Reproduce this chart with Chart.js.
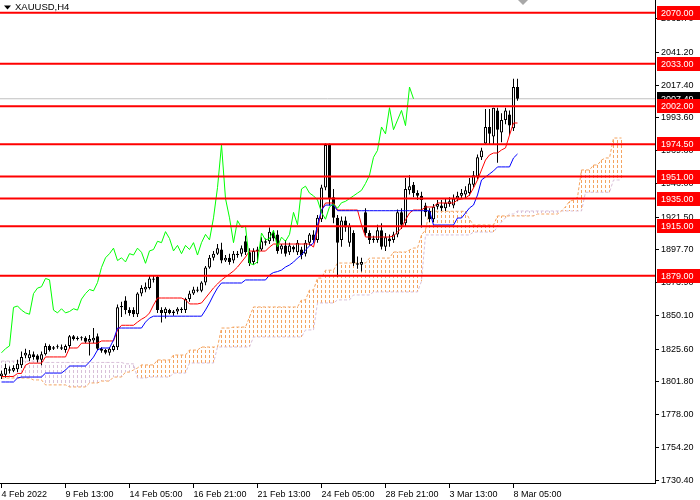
<!DOCTYPE html>
<html>
<head>
<meta charset="utf-8">
<title>XAUUSD,H4</title>
<style>
  html, body { margin: 0; padding: 0; background: #fff; }
  canvas { display: block; }
</style>
<script src="https://cdn.jsdelivr.net/npm/chart.js@4.4.1/dist/chart.umd.min.js"></script>
</head>
<body>
<canvas id="chart" width="700" height="500"></canvas>
<script>
// axis labels
const timeTicks = [0, 16, 32, 48, 64, 80, 96, 112, 128];
const timeLabels = ["4 Feb 2022", "9 Feb 13:00", "14 Feb 05:00", "16 Feb 21:00", "21 Feb 13:00",
  "24 Feb 05:00", "28 Feb 21:00", "3 Mar 13:00", "8 Mar 05:00"];
const priceTicks = [2065.70, 2041.20, 2017.40, 1993.60, 1969.80, 1946.00, 1921.50, 1897.70,
  1873.90, 1850.10, 1825.60, 1801.80, 1778.00, 1754.20, 1730.40];

// horizontal levels and last price
const levels = [2070.00, 2033.00, 2002.00, 1974.50, 1951.00, 1935.00, 1915.00, 1879.00];
const lastPrice = 2007.49;

// H4 candles, one value per bar
const openP = [
  1806, 1807, 1811, 1810, 1811, 1814, 1821, 1819, 1822, 1821,
  1818, 1822, 1828, 1826, 1827, 1827, 1825, 1828, 1835, 1833,
  1834, 1834, 1831, 1832, 1835, 1826, 1825, 1823, 1825, 1827,
  1856, 1861, 1854, 1854, 1851, 1866, 1869, 1870, 1877, 1878,
  1854, 1852, 1854, 1852, 1853, 1855, 1854, 1862, 1866, 1869,
  1868, 1874, 1885, 1892, 1895, 1898, 1890, 1892, 1890, 1895,
  1895, 1904, 1896, 1889, 1897, 1898, 1904, 1904, 1910, 1909,
  1898, 1901, 1896, 1900, 1896, 1898, 1895, 1903, 1909, 1905,
  1920, 1943, 1974, 1936, 1921, 1905, 1919, 1903, 1910, 1888,
  1887, 1925, 1910, 1905, 1905, 1912, 1900, 1906, 1905, 1909,
  1925, 1917, 1941, 1945, 1939, 1937, 1930, 1926, 1920, 1929,
  1930, 1928, 1931, 1930, 1935, 1937, 1938, 1939, 1945, 1951,
  1965, 1975, 1987, 1980, 1999, 1983, 1992, 1996, 1986, 2016
];
const highP = [
  1810, 1815, 1813, 1814, 1818, 1824, 1826, 1825, 1824, 1822,
  1824, 1830, 1829, 1828, 1829, 1829, 1829, 1836, 1836, 1835,
  1835, 1835, 1836, 1841, 1837, 1827, 1826, 1827, 1829, 1858,
  1860, 1864, 1856, 1856, 1867, 1872, 1874, 1879, 1879, 1879,
  1856, 1856, 1855, 1854, 1856, 1856, 1863, 1868, 1871, 1871,
  1875, 1886, 1894, 1897, 1902, 1903, 1894, 1895, 1897, 1897,
  1901, 1908, 1899, 1899, 1900, 1907, 1906, 1914, 1912, 1912,
  1902, 1905, 1903, 1901, 1905, 1900, 1905, 1910, 1912, 1923,
  1945, 1975, 1975, 1942, 1923, 1922, 1922, 1917, 1912, 1893,
  1892, 1928, 1912, 1908, 1916, 1917, 1910, 1909, 1911, 1927,
  1928, 1950, 1952, 1947, 1941, 1940, 1932, 1928, 1931, 1934,
  1934, 1935, 1936, 1938, 1940, 1942, 1944, 1950, 1955, 1967,
  1972, 2000, 2000, 2001, 2001, 1997, 2001, 1999, 2022, 2022
];
const lowP = [
  1804, 1805, 1808, 1809, 1809, 1812, 1819, 1817, 1818, 1816,
  1814, 1821, 1824, 1825, 1826, 1825, 1823, 1826, 1832, 1832,
  1832, 1830, 1821, 1830, 1825, 1823, 1822, 1821, 1824, 1825,
  1849, 1851, 1850, 1849, 1849, 1864, 1867, 1869, 1874, 1852,
  1845, 1848, 1851, 1850, 1851, 1852, 1852, 1860, 1865, 1867,
  1867, 1872, 1884, 1890, 1894, 1888, 1889, 1887, 1888, 1892,
  1893, 1894, 1886, 1887, 1888, 1897, 1901, 1902, 1904, 1895,
  1895, 1893, 1894, 1896, 1894, 1891, 1893, 1901, 1903, 1903,
  1918, 1941, 1930, 1917, 1878, 1900, 1911, 1900, 1886, 1884,
  1882, 1908, 1902, 1903, 1903, 1898, 1897, 1900, 1903, 1907,
  1913, 1915, 1938, 1936, 1934, 1914, 1922, 1918, 1918, 1927,
  1926, 1926, 1929, 1928, 1933, 1935, 1935, 1937, 1943, 1949,
  1963, 1974, 1974, 1974, 1961, 1976, 1989, 1981, 1984, 2006
];
const closeP = [
  1808, 1812, 1810, 1812, 1815, 1820, 1823, 1822, 1820, 1818,
  1822, 1828, 1825, 1827, 1827.5, 1826, 1828, 1835, 1833, 1834,
  1833.5, 1831, 1833, 1834, 1826, 1824.5, 1823, 1826, 1828, 1856,
  1857, 1854, 1852, 1851, 1866, 1870, 1871, 1877, 1876, 1854,
  1852, 1855, 1852, 1853, 1855, 1854, 1862, 1866, 1869, 1868,
  1874, 1885, 1892, 1895, 1899, 1890, 1892, 1889, 1895, 1894,
  1899, 1896, 1888, 1897, 1898, 1904, 1903, 1911, 1906, 1897,
  1901, 1895, 1901, 1898, 1903, 1894, 1903, 1909, 1905, 1921,
  1943, 1974, 1935, 1921, 1903, 1919, 1914, 1915, 1888, 1887,
  1889, 1910, 1905, 1906, 1912, 1900, 1907, 1904, 1909, 1925,
  1916, 1942, 1944, 1939, 1937, 1934, 1925, 1920, 1929, 1931,
  1928, 1932, 1933, 1935, 1937, 1939, 1941, 1946, 1952, 1965,
  1970, 1987, 1982, 2001, 1985, 1992, 1999, 1988, 2016, 2007.49
];

// Ichimoku lines
const tenkan = [
  1805.8, 1805.8, 1805.8, 1805.8, 1808, 1808, 1814, 1815.5, 1815.5, 1815.5,
  1815.5, 1820, 1820, 1820, 1820, 1820, 1820, 1826.5, 1826.5, 1826.5,
  1830, 1830, 1830, 1830, 1830, 1831.6, 1831.6, 1831.6, 1831.6, 1839.6,
  1843, 1843, 1843, 1843, 1845.3, 1847.4, 1849, 1851.9, 1857.7, 1862.8,
  1862.8, 1862.8, 1862.8, 1862.8, 1862.8, 1862.8, 1861.4, 1858.5, 1858.5, 1858.5,
  1859.2, 1862.8, 1866.4, 1870.1, 1873, 1875.9, 1878.1, 1880.2, 1882.4, 1885.3,
  1888.9, 1892.6, 1896.9, 1896.9, 1896.9, 1896.9, 1896.9, 1899.8, 1902, 1902,
  1902, 1902, 1902, 1902, 1902, 1902, 1902, 1902, 1899.8, 1912,
  1926.7, 1931.8, 1931.8, 1931.8, 1926.7, 1926.7, 1926.7, 1926.7, 1926.7, 1926.7,
  1915.8, 1907.1, 1907.1, 1907.1, 1907.1, 1907.1, 1907.1, 1907.1, 1907.8, 1910.7,
  1913.6, 1919.5, 1924.5, 1926.7, 1926.7, 1926.7, 1928.9, 1928.9, 1928.9, 1931.8,
  1931.8, 1931.8, 1931.8, 1931.8, 1934, 1934.7, 1935.4, 1937.6, 1942.7, 1948.5,
  1955.8, 1963, 1966.7, 1968.1, 1968.1, 1970.3, 1971.8, 1981.1, 1989.9, 1989.9
];
const kijun = [
  1801.8, 1801.8, 1801.8, 1801.8, 1804.7, 1805.4, 1805.4, 1805.4, 1805.4, 1805.4,
  1805.4, 1808.3, 1808.3, 1808.3, 1808.3, 1808.3, 1810.5, 1813.4, 1813.4, 1813.4,
  1813.4, 1813.4, 1816.3, 1819.9, 1825, 1826.5, 1826.5, 1826.5, 1832.3, 1841,
  1841, 1841, 1841, 1841, 1841, 1841, 1845.3, 1848.2, 1849.6, 1849.6,
  1849.6, 1849.6, 1849.6, 1849.6, 1849.6, 1849.6, 1849.6, 1849.6, 1849.6, 1849.6,
  1849.6, 1854.1, 1859.2, 1865, 1870.1, 1873.7, 1873.7, 1873.7, 1873.7, 1873.7,
  1873.7, 1875.9, 1875.9, 1875.9, 1875.9, 1875.9, 1875.9, 1879.5, 1881.3, 1882,
  1883.1, 1885.3, 1886.8, 1888.9, 1891.8, 1894, 1897.7, 1900.6, 1902.7, 1915.8,
  1926.7, 1930.3, 1930.3, 1930.3, 1926.2, 1926.2, 1926.2, 1926.2, 1926.2, 1926.2,
  1926.2, 1926.2, 1926.2, 1926.2, 1926.2, 1926.2, 1926.2, 1926.2, 1926.2, 1926.2,
  1926.2, 1926.2, 1926.2, 1926.2, 1926.2, 1926.2, 1926.2, 1926.2, 1915.8, 1915.8,
  1915.8, 1915.8, 1915.8, 1915.8, 1920.9, 1920.9, 1924.5, 1928.2, 1930.3, 1937.6,
  1948.5, 1950.7, 1952.9, 1955.1, 1958, 1958, 1958, 1958, 1964.5, 1967.4
];
// senkou spans run 26 bars past the last candle
const spanA = [
  1804.7, 1804.7, 1804.7, 1804.7, 1804.7, 1804.7, 1804.7, 1804.7, 1803.3, 1803.3,
  1803.3, 1799.7, 1799.7, 1799.7, 1799.7, 1799.7, 1799.7, 1798.2, 1798.2, 1798.2,
  1798.2, 1798.2, 1801.1, 1801.1, 1801.1, 1802.5, 1802.5, 1802.5, 1805.4, 1805.4,
  1805.4, 1809, 1809, 1810.5, 1812, 1814.2, 1814.2, 1814.2, 1814.2, 1817.8,
  1817.8, 1817.8, 1817.8, 1821.4, 1821.4, 1821.4, 1821.4, 1825, 1825, 1825,
  1827.2, 1827.2, 1827.2, 1827.2, 1827.2, 1841, 1841, 1841, 1841.7, 1841.7,
  1841.7, 1841.7, 1849, 1856.3, 1856.3, 1856.3, 1856.3, 1856.3, 1856.3, 1856.3,
  1856.3, 1856.3, 1856.3, 1856.3, 1856.3, 1861.4, 1861.4, 1868.6, 1868.6, 1877.3,
  1877.3, 1883, 1883, 1883, 1888.2, 1888.2, 1888.2, 1888.2, 1888.2, 1888.2,
  1888.2, 1888.2, 1891.8, 1891.8, 1891.8, 1891.8, 1891.8, 1891.8, 1896.2, 1896.2,
  1896.2, 1896.2, 1897.7, 1899.1, 1899.1, 1908.6, 1912.2, 1925.8, 1925.8, 1925.8,
  1925.8, 1925.8, 1925.8, 1925.8, 1925.8, 1925.8, 1925.8, 1920, 1915.8, 1915.8,
  1915.8, 1915.8, 1915.8, 1915.8, 1922.4, 1922.4, 1922.4, 1922.4, 1922.4, 1922.4,
  1922.4, 1922.4, 1922.4, 1922.4, 1923.8, 1923.8, 1923.8, 1923.8, 1923.8, 1923.8,
  1926, 1929, 1933, 1934, 1936, 1955.8, 1955.8, 1955.8, 1959.4, 1959.4,
  1963, 1964.5, 1964.5, 1979, 1979, 1979
];
const spanB = [
  1817, 1817, 1817, 1817, 1817, 1817, 1817, 1817, 1817, 1817,
  1817, 1816, 1816, 1816, 1816, 1816, 1816, 1816, 1816, 1816,
  1816, 1816, 1816, 1816, 1816, 1816, 1816, 1816, 1816, 1816,
  1816, 1815, 1815, 1815, 1804.7, 1804.7, 1804.7, 1805.4, 1805.4, 1805.4,
  1805.4, 1805.4, 1805.4, 1808.3, 1808.3, 1808.3, 1808.3, 1815.6, 1815.6, 1815.6,
  1815.6, 1815.6, 1815.6, 1815.6, 1827.2, 1827.2, 1827.2, 1827.2, 1827.2, 1827.2,
  1827.2, 1827.2, 1827.2, 1834.5, 1834.5, 1834.5, 1834.5, 1834.5, 1834.5, 1834.5,
  1834.5, 1834.5, 1834.5, 1834.5, 1834.5, 1834.5, 1839.6, 1839.6, 1839.6, 1859.2,
  1859.2, 1859.2, 1859.2, 1859.2, 1861.4, 1861.4, 1861.4, 1861.4, 1865, 1865,
  1865, 1865, 1865, 1867.2, 1867.2, 1867.2, 1867.2, 1867.2, 1867.2, 1867.2,
  1867.2, 1867.2, 1867.2, 1867.2, 1867.2, 1875, 1908.6, 1908.6, 1908.6, 1908.6,
  1908.6, 1908.6, 1908.6, 1908.6, 1908.6, 1908.6, 1908.6, 1908.6, 1910.7, 1910.7,
  1910.7, 1910.7, 1910.7, 1910.7, 1914.4, 1918, 1921, 1923.8, 1923.8, 1926,
  1926, 1926, 1926, 1926, 1926, 1926, 1926, 1926, 1926, 1926,
  1926, 1926, 1926, 1926, 1926, 1926, 1939.6, 1939.6, 1939.6, 1939.6,
  1939.6, 1939.6, 1939.6, 1948.5, 1948.5, 1948.5
];
const chikouShift = 26;

const xMin = -0.375;
const xMax = 163.375;

const ctx = document.getElementById("chart").getContext("2d");

// dotted vertical hatch for the cloud: 3px on, 2px off
const makeHatch = (color) => {
  const c = document.createElement("canvas");
  c.width = 1;
  c.height = 5;
  const g = c.getContext("2d");
  g.fillStyle = color;
  g.fillRect(0, 0, 1, 3);
  return ctx.createPattern(c, "repeat");
};

const levelSets = levels.map((lvl) => ({
  type: "line",
  data: [{ x: xMin, y: lvl }, { x: xMax, y: lvl }],
  borderColor: "#FF0000",
  borderWidth: 2,
  pointRadius: 0,
  order: 0,
}));

const lineSet = (data, color, order, dash) => ({
  type: "line",
  data: data,
  borderColor: color,
  borderWidth: 1,
  borderDash: dash || [],
  pointRadius: 0,
  tension: 0,
  fill: false,
  order: order,
});

// one hatch dataset per cloud colour
const hatchSet = (upper, fill) => ({
  type: "bar",
  data: spanA
    .map((a, i) => ({ x: i, y: [Math.min(a, spanB[i]), Math.max(a, spanB[i])], up: a >= spanB[i] }))
    .filter((d) => d.up === upper),
  backgroundColor: fill,
  borderWidth: 0,
  barThickness: 1,
  inflateAmount: 0,
  grouped: false,
  order: 7,
});

// right axis boxes, title and shift marker
const overlay = {
  id: "overlay",
  afterDraw(chart) {
    const { ctx, chartArea } = chart;
    const y = chart.scales.y;
    ctx.save();
    ctx.font = '9px "Liberation Sans"';
    ctx.textBaseline = "middle";
    ctx.textAlign = "left";
    const box = (v, bg) => {
      const py = Math.round(y.getPixelForValue(v));
      ctx.fillStyle = bg;
      ctx.fillRect(chartArea.right + 2, py - 7, 700 - chartArea.right - 2, 14);
      ctx.fillStyle = "#FFFFFF";
      ctx.fillText(v.toFixed(2), chartArea.right + 6, py + 0.5);
    };
    box(lastPrice, "#000000");
    levels.forEach((v) => box(v, "#FF0000"));

    ctx.fillStyle = "#000000";
    ctx.beginPath();
    ctx.moveTo(4, 5.5);
    ctx.lineTo(11, 5.5);
    ctx.lineTo(7.5, 9.5);
    ctx.closePath();
    ctx.fill();
    ctx.font = '9.5px "Liberation Sans"';
    ctx.fillText("XAUUSD,H4", 15, 7.5);

    ctx.fillStyle = "#A8A8A8";
    ctx.beginPath();
    ctx.moveTo(518, 0);
    ctx.lineTo(528, 0);
    ctx.lineTo(523, 5);
    ctx.closePath();
    ctx.fill();
    ctx.restore();
  },
};

Chart.defaults.font.family = '"Liberation Sans", Arial, sans-serif';
Chart.defaults.font.size = 9;
Chart.defaults.color = "#000";

new Chart(ctx, {
  data: {
    datasets: [
      ...levelSets,
      lineSet(closeP.slice(chikouShift).map((c, i) => ({ x: i, y: c })), "#00FF00", 1),
      lineSet(kijun.map((v, i) => ({ x: i, y: v })), "#0000FF", 2),
      lineSet(tenkan.map((v, i) => ({ x: i, y: v })), "#FF0000", 3),
      {
        type: "bar",
        data: openP.map((o, i) => ({ x: i, y: [o, closeP[i]] })),
        backgroundColor: openP.map((o, i) => (closeP[i] >= o ? "#FFFFFF" : "#000000")),
        borderColor: "#000000",
        borderWidth: 1,
        borderSkipped: false,
        barThickness: 3,
        minBarLength: 1,
        inflateAmount: 0,
        grouped: false,
        order: 4,
      },
      {
        type: "bar",
        data: lowP.map((l, i) => ({ x: i, y: [l, highP[i]] })),
        backgroundColor: "#000000",
        borderWidth: 0,
        barThickness: 1,
        inflateAmount: 0,
        grouped: false,
        order: 5,
      },
      lineSet(spanA.map((v, i) => ({ x: i, y: v })), "#F4A460", 6, [3, 2]),
      lineSet(spanB.map((v, i) => ({ x: i, y: v })), "#D8BFD8", 6, [3, 2]),
      hatchSet(true, makeHatch("#F4A460")),
      hatchSet(false, makeHatch("#D8BFD8")),
      {
        type: "line",
        data: [{ x: xMin, y: lastPrice }, { x: xMax, y: lastPrice }],
        borderColor: "#C0C0C0",
        borderWidth: 1,
        pointRadius: 0,
        order: 8,
      },
    ],
  },
  options: {
    responsive: false,
    animation: false,
    devicePixelRatio: 1,
    events: [],
    layout: { padding: 0 },
    plugins: {
      legend: { display: false },
      tooltip: { enabled: false },
    },
    scales: {
      x: {
        type: "linear",
        min: xMin,
        max: xMax,
        offset: false,
        afterBuildTicks: (s) => {
          s.ticks = timeTicks.map((v) => ({ value: v }));
        },
        afterFit: (s) => {
          s.height = 17;
          s.paddingLeft = 0;
          s.paddingRight = 0;
        },
        ticks: {
          autoSkip: false,
          maxRotation: 0,
          align: "start",
          padding: 1,
          callback: (v) => timeLabels[timeTicks.indexOf(v)],
        },
        grid: { drawOnChartArea: false, offset: false, tickLength: 5, color: "#000" },
        border: { color: "#000" },
      },
      y: {
        type: "linear",
        position: "right",
        min: 1728.45,
        max: 2079.22,
        beginAtZero: false,
        afterBuildTicks: (s) => {
          s.ticks = priceTicks.map((v) => ({ value: v }));
        },
        afterFit: (s) => {
          s.width = 45;
          s.paddingTop = 0;
          s.paddingBottom = 0;
        },
        ticks: {
          padding: 2,
          callback: (v) => v.toFixed(2),
        },
        grid: { drawOnChartArea: false, tickLength: 4, color: "#000" },
        border: { color: "#000" },
      },
    },
  },
  plugins: [overlay],
});
</script>
</body>
</html>
